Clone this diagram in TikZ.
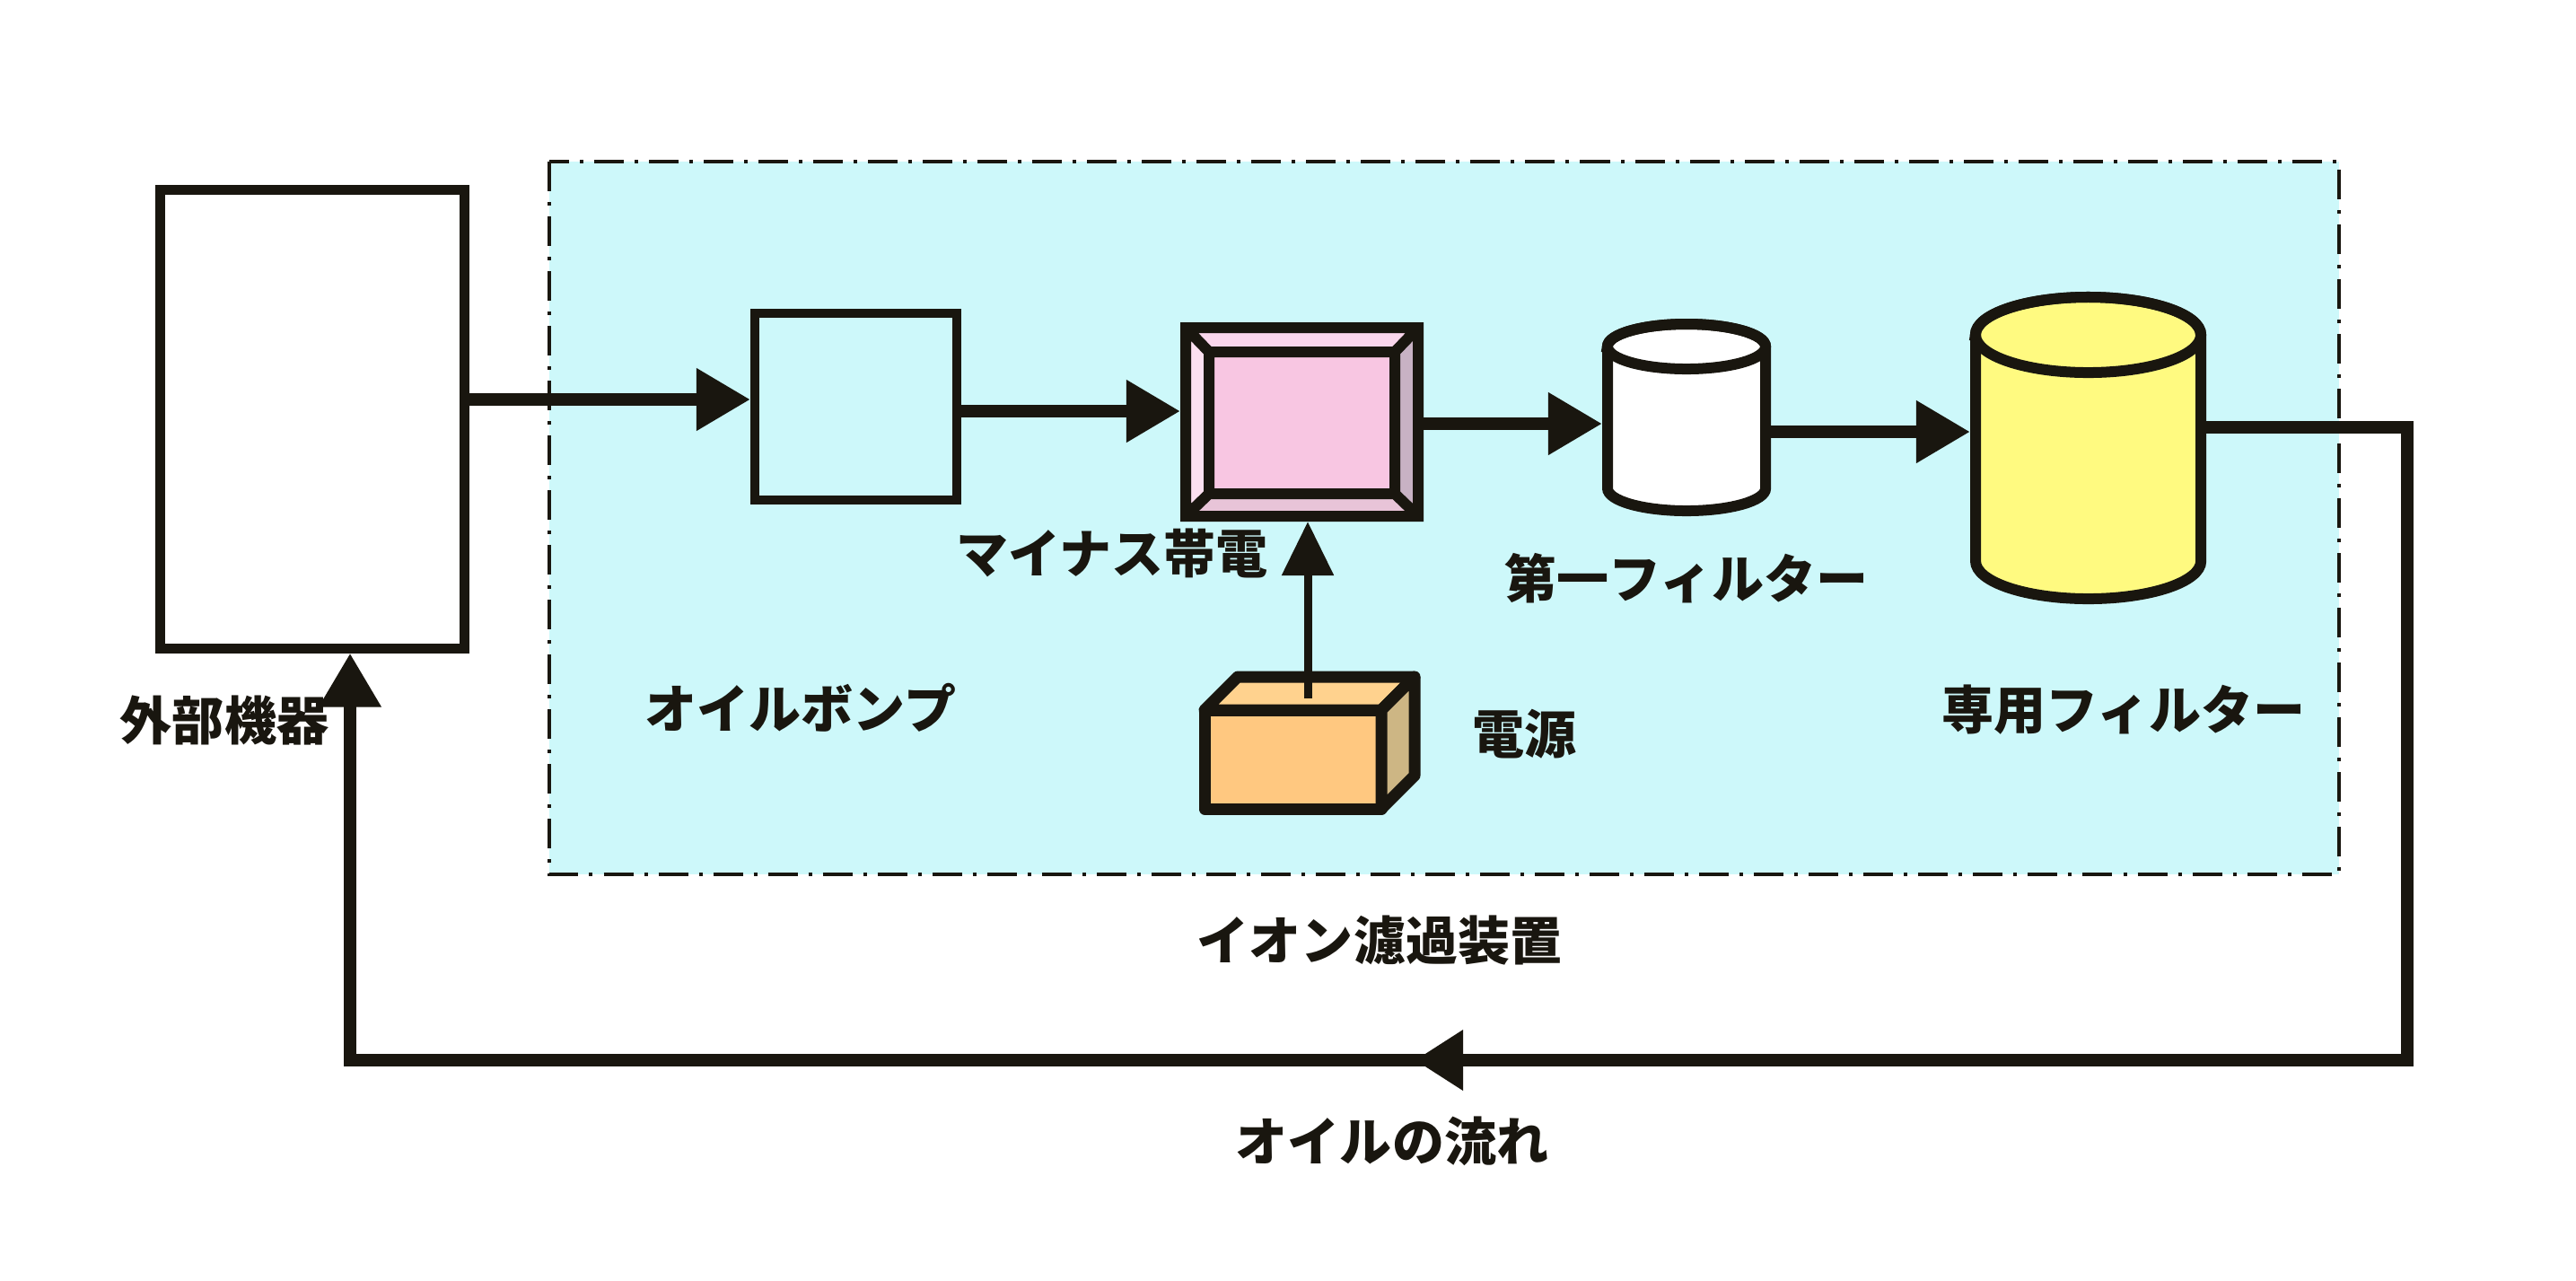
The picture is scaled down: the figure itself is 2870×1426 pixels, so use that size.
\documentclass[tikz,border=0pt]{standalone}
\usepackage{fontspec}
\newfontfamily\jp{Noto Sans CJK JP}
\usetikzlibrary{arrows.meta}
\definecolor{ink}{RGB}{25,22,15}
\definecolor{bgcyan}{RGB}{205,248,250}
\definecolor{pinkface}{RGB}{248,198,226}
\definecolor{bevtop}{RGB}{250,214,236}
\definecolor{bevleft}{RGB}{252,224,240}
\definecolor{bevright}{RGB}{200,178,196}
\definecolor{bevbot}{RGB}{232,196,216}
\definecolor{orfront}{RGB}{255,200,128}
\definecolor{ortop}{RGB}{255,210,142}
\definecolor{orside}{RGB}{205,182,132}
\definecolor{cylyellow}{RGB}{255,250,128}
\begin{document}
\begin{tikzpicture}[x=0.01cm,y=-0.01cm,
  lbl/.style={font=\jp\bfseries\fontsize{16.5pt}{20pt}\selectfont, inner sep=0, text=ink},
  flow/.style={line width=1.4mm, draw=ink, -{Triangle[length=6mm,width=6.6mm]}},
  anchorbox/.style={inner sep=0, outer sep=0.6mm},
  shapeline/.style={draw=ink, line width=1.2mm}]
\useasboundingbox (0,0) rectangle (2870,1426);
\fill[white] (0,0) rectangle (2870,1426);
% frame of the ion filter unit
\draw[fill=bgcyan, draw=ink, line width=0.45mm, dash pattern=on 3.3mm off 1.2mm on 0.4mm off 1.2mm] (612,180) rectangle (2606,974);
% external device
\node[draw=ink, fill=white, line width=1.1mm, minimum width=3.38cm, minimum height=5.10cm, inner sep=0, outer sep=0.55mm] (ext) at (348,467) {};
% oil pump
\node[draw=ink, line width=1.0mm, minimum width=2.25cm, minimum height=2.08cm, inner sep=0, outer sep=0.5mm] (pump) at (953.5,453) {};
% negative charging unit (bevelled box)
\fill[bevtop] (1321,365) -- (1580,365) -- (1554,392) -- (1347,392) -- cycle;
\fill[bevleft] (1321,365) -- (1347,392) -- (1347,550) -- (1321,575) -- cycle;
\fill[bevright] (1580,365) -- (1580,575) -- (1554,550) -- (1554,392) -- cycle;
\fill[bevbot] (1321,575) -- (1347,550) -- (1554,550) -- (1580,575) -- cycle;
\fill[pinkface] (1347,392) rectangle (1554,550);
\draw[shapeline] (1321,365) rectangle (1580,575) (1347,392) rectangle (1554,550)
  (1321,365) -- (1347,392) (1580,365) -- (1554,392) (1321,575) -- (1347,550) (1580,575) -- (1554,550);
\node[anchorbox, minimum width=2.59cm, minimum height=2.10cm] (pink) at (1450.5,470) {};
% power supply (3D box)
\filldraw[fill=orfront, shapeline, line width=1.3mm, line join=round] (1342,791) rectangle (1539,901);
\filldraw[fill=ortop, shapeline, line width=1.3mm, line join=round] (1342,791) -- (1379,754) -- (1576,754) -- (1539,791) -- cycle;
\filldraw[fill=orside, shapeline, line width=1.3mm, line join=round] (1539,791) -- (1576,754) -- (1576,864) -- (1539,901) -- cycle;
\coordinate (pwr) at (1457,778);
\draw[draw=ink, line width=0.9mm, -{Triangle[length=6mm,width=5.6mm]}] (pwr) -- (pwr |- pink.south);
% first filter (white cylinder)
\filldraw[fill=white, shapeline] (1791,386) -- (1791,544) arc[start angle=180, end angle=360, x radius=0.88cm, y radius=0.25cm] -- (1967,386) arc[start angle=0, end angle=180, x radius=0.88cm, y radius=0.25cm] -- cycle;
\draw[shapeline] (1879,386) ellipse[x radius=0.88cm, y radius=0.25cm];
\node[anchorbox, minimum width=1.76cm, minimum height=2.1cm] (cyl1) at (1879,465) {};
% dedicated filter (yellow cylinder)
\filldraw[fill=cylyellow, shapeline] (2201,373) -- (2201,625) arc[start angle=180, end angle=360, x radius=1.255cm, y radius=0.42cm] -- (2452,373) arc[start angle=0, end angle=180, x radius=1.255cm, y radius=0.42cm] -- cycle;
\draw[shapeline] (2326.5,373) ellipse[x radius=1.255cm, y radius=0.42cm];
\node[anchorbox, minimum width=2.51cm, minimum height=3.4cm] (cyl2) at (2326.5,499) {};
% flow connectors
\draw[flow] (ext.east |- 0,445) -- (pump.west |- 0,445);
\draw[flow] (pump.east |- 0,458) -- (pink.west |- 0,458);
\draw[flow] (pink.east |- 0,472) -- (cyl1.west |- 0,472);
\draw[flow] (cyl1.east |- 0,481) -- (cyl2.west |- 0,481);
\coordinate (r1) at (2682,476);
\coordinate (r2) at (2682,1181);
\coordinate (r3) at (390,1181);
\draw[flow, line join=miter] (cyl2.east |- r1) -- (r1) -- (r2) -- (r3) -- (r3 |- ext.south);
\coordinate (mid) at (1577,1181);
\fill[ink] (mid) -- ++(53,-34) -- ++(0,68) -- cycle;
% labels
\node[lbl] (t1) at (250,802) {外部機器};
\node[lbl] (t2) at (892,788) {オイルボンプ};
\node[lbl] (t3) at (1239,616) {マイナス帯電};
\node[lbl] (t4) at (1879,644) {第一フィルター};
\node[lbl] (t5) at (1698,818) {電源};
\node[lbl] (t6) at (2366,791) {専用フィルター};
\node[lbl] (t7) at (1537,1048) {イオン濾過装置};
\node[lbl] (t8) at (1551,1271) {オイルの流れ};
\end{tikzpicture}
\end{document}
